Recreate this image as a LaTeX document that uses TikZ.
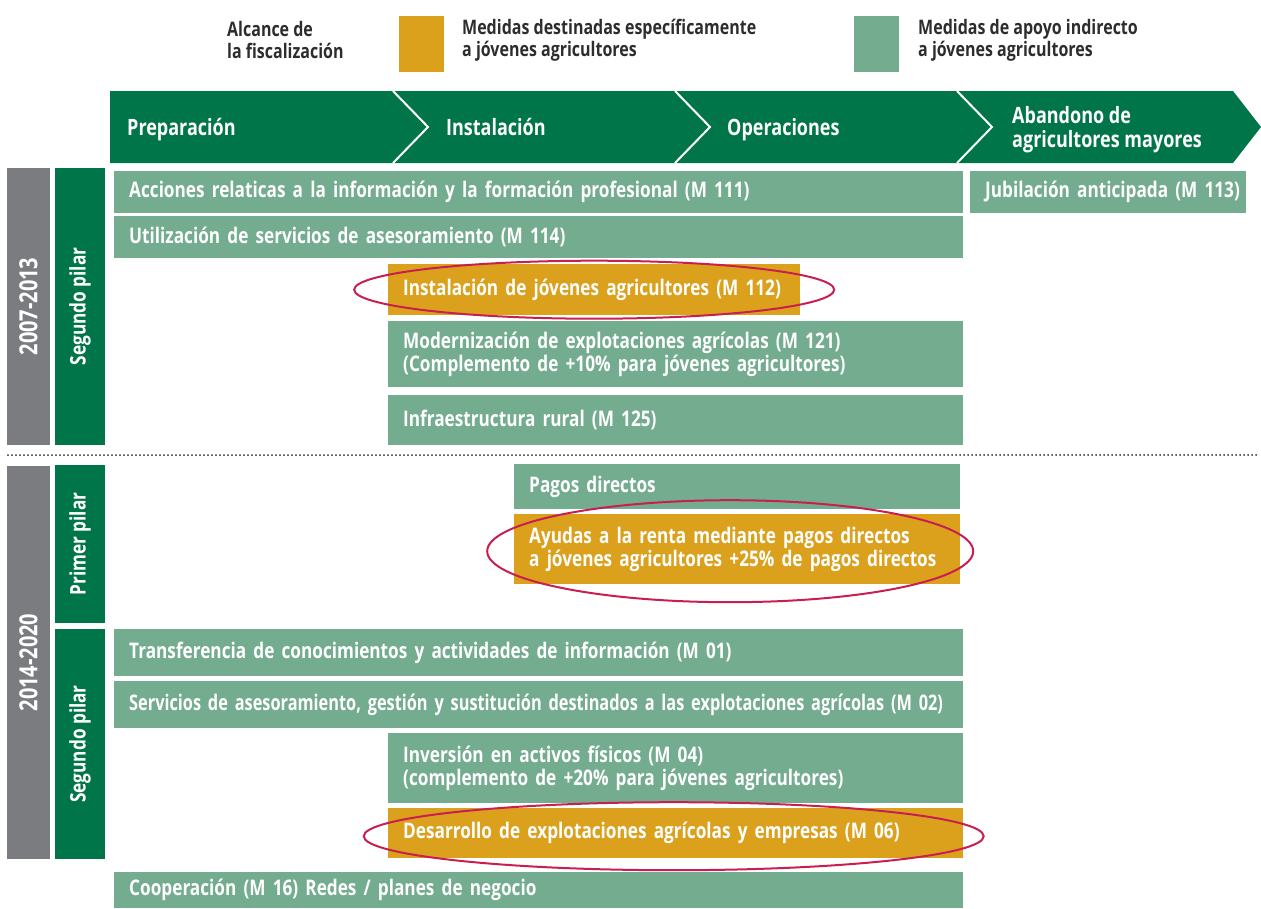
\documentclass[tikz,border=0pt]{standalone}
\usepackage{fontspec}
\setmainfont{Open Sans}
\newfontfamily\estrecha[FakeStretch=0.8]{Open Sans}
\definecolor{verdeosc}{RGB}{0,117,73}
\definecolor{verdecla}{RGB}{115,172,143}
\definecolor{naranja}{RGB}{219,161,29}
\definecolor{gris}{RGB}{123,124,128}
\definecolor{rojo}{RGB}{200,30,80}
\definecolor{texto}{RGB}{45,45,45}
\tikzset{
  letra/.style={font=\estrecha\bfseries\fontsize{21.5}{23}\selectfont},
  medida/.style={letra, anchor=north west, inner xsep=15pt, inner ysep=0pt, align=left, text=white},
  indirecto/.style={medida, fill=verdecla},
  especifico/.style={medida, fill=naranja},
  barra/.style={letra, rotate=90, inner sep=0pt, text=white},
  periodo/.style={barra, fill=gris, minimum height=43pt, font=\estrecha\bfseries\fontsize{25}{28}\selectfont},
  pilar/.style={barra, fill=verdeosc, minimum height=50pt},
  fase/.style={anchor=base west, inner sep=0pt, align=left, text=white, font=\estrecha\bfseries\fontsize{22.5}{24}\selectfont},
  leyenda/.style={font=\estrecha\bfseries\fontsize{20}{22}\selectfont, anchor=west, inner sep=0pt, align=left, text=texto},
  cuadro/.style={anchor=north west, inner sep=0pt, minimum width=45pt, minimum height=56pt},
  marca/.style={draw=rojo, line width=2pt}
}
\begin{document}
\begin{tikzpicture}[x=1pt,y=-1pt]
\useasboundingbox (0,0) rectangle (1261,908);
\node[leyenda] (alcance) at (227,40) {Alcance de\\la fiscalización};
\node[cuadro, fill=naranja] (cnar) at (399,16) {};
\node[leyenda] (lnar) at (462,40) {Medidas destinadas específicamente\\a jóvenes agricultores};
\node[cuadro, fill=verdecla] (cver) at (854,16) {};
\node[leyenda] (lver) at (918,40) {Medidas de apoyo indirecto\\a jóvenes agricultores};

\fill[verdeosc] (110,91) -- (1233,91) -- (1261,127) -- (1233,163) -- (110,163) -- cycle;
\draw[white, line width=2pt] (393,91) -- (428,127) -- (393,163);
\draw[white, line width=2pt] (675,91) -- (710,127) -- (675,163);
\draw[white, line width=2pt] (957,91) -- (992,127) -- (957,163);
\node[fase] (prep) at (127,135) {Preparación};
\node[fase] (inst) at (446,135) {Instalación};
\node[fase] (oper) at (727,135) {Operaciones};
\node[fase, anchor=west] (aban) at (1012,130) {Abandono de\\agricultores mayores};

\node[periodo, minimum width=277pt] (p1) at (28.5,306.5) {2007-2013};
\node[pilar, minimum width=277pt] (sp1) at (80,306.5) {Segundo pilar};
\node[indirecto, text width=819pt, minimum height=42pt] (m111) at (114,171) {Acciones relaticas a la información y la formación profesional (M 111)};
\node[indirecto, text width=246pt, minimum height=42pt] (m113) at (970,171) {\mbox{Jubilación anticipada (M 113)}};
\node[indirecto, text width=819pt, minimum height=42pt] (m114) at (114,216) {Utilización de servicios de asesoramiento (M 114)};
\node[especifico, text width=382pt, minimum height=51pt] (m112) at (388,264) {Instalación de jóvenes agricultores (M 112)};
\node[indirecto, text width=545pt, minimum height=66pt] (m121) at (388,321) {Modernización de explotaciones agrícolas (M 121)\\(Complemento de +10\% para jóvenes agricultores)};
\node[indirecto, text width=545pt, minimum height=50pt] (m125) at (388,395) {Infraestructura rural (M 125)};
\draw[marca] (m112.center) ellipse [x radius=240, y radius=29];

\draw[texto, line width=2pt, line cap=round, dash pattern=on 0pt off 4pt] (8,455) -- (1259,455);

\node[periodo, minimum width=393pt] (p2) at (28.5,662.5) {2014-2020};
\node[pilar, minimum width=158pt] (pp) at (80,544) {Primer pilar};
\node[pilar, minimum width=230pt] (sp2) at (80,744) {Segundo pilar};
\node[indirecto, text width=416pt, minimum height=45pt] (pagos) at (514,464) {Pagos directos};
\node[especifico, text width=416pt, minimum height=70pt] (ayudas) at (514,514) {Ayudas a la renta mediante pagos directos\\a jóvenes agricultores +25\% de pagos directos};
\node[indirecto, text width=819pt, minimum height=47pt] (m01) at (114,629) {Transferencia de conocimientos y actividades de información (M 01)};
\node[indirecto, text width=819pt, minimum height=47pt] (m02) at (114,681) {\scalebox{0.95}[1]{Servicios de asesoramiento, gestión y sustitución destinados a las explotaciones agrícolas (M 02)}};
\node[indirecto, text width=545pt, minimum height=70pt] (m04) at (388,733) {Inversión en activos físicos (M 04)\\(complemento de +20\% para jóvenes agricultores)};
\node[especifico, text width=545pt, minimum height=50pt] (m06) at (388,808) {Desarrollo de explotaciones agrícolas y empresas (M 06)};
\node[indirecto, text width=819pt, minimum height=36pt] (m16) at (114,872) {Cooperación (M 16) Redes / planes de negocio};
\draw[marca] ([xshift=-7pt,yshift=-2pt]ayudas.center) ellipse [x radius=243, y radius=51];
\draw[marca] ([xshift=-2pt,yshift=-3pt]m06.center) ellipse [x radius=310, y radius=34];
\end{tikzpicture}
\end{document}
